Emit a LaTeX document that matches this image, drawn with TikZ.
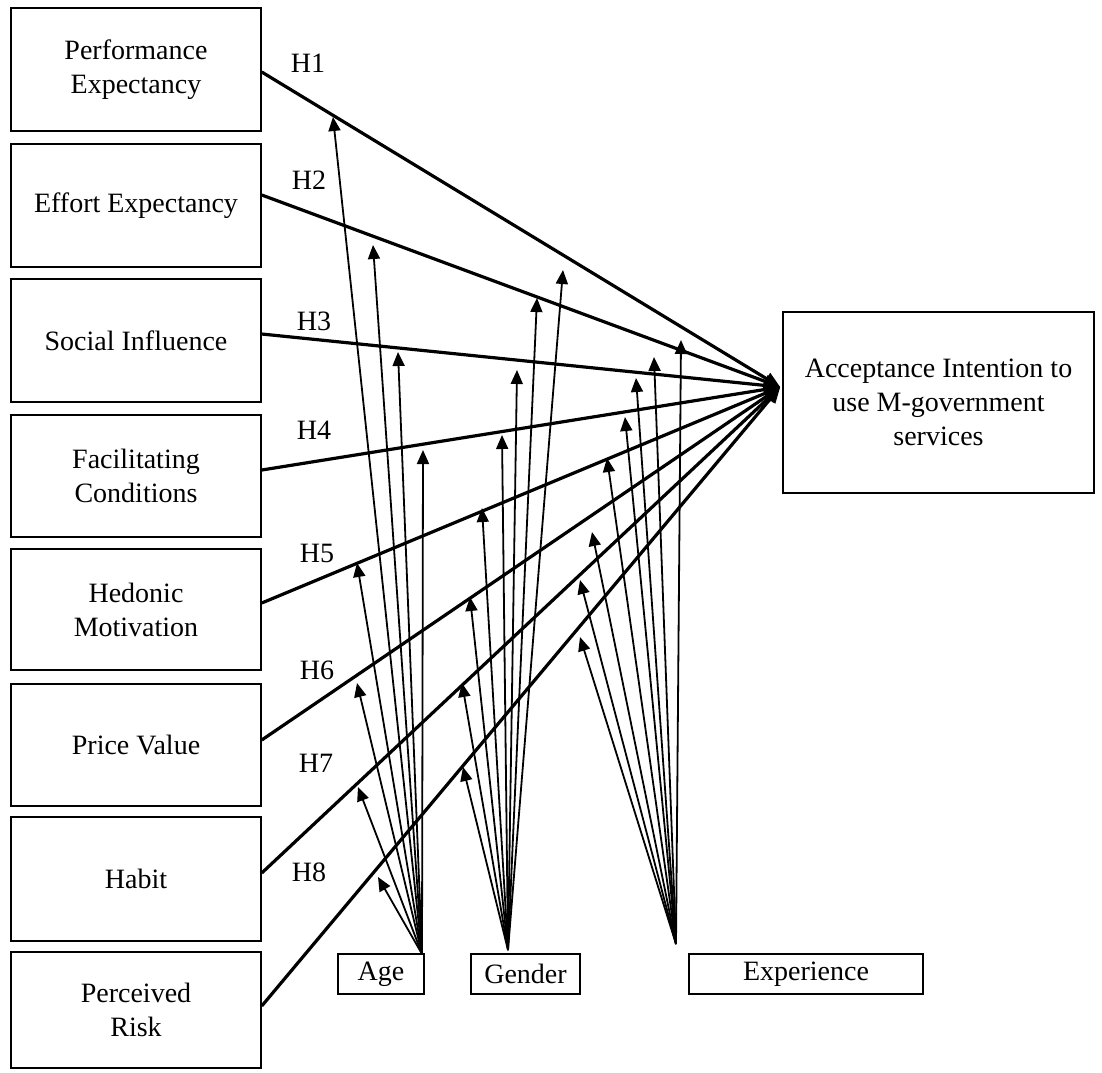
\documentclass[tikz,border=0pt]{standalone}
\usepackage{fontspec}
\setmainfont{Liberation Serif}
\usetikzlibrary{arrows.meta,calc}
\begin{document}
\begin{tikzpicture}[x=1pt,y=-1pt,
  box/.style={draw,line width=1.5pt,align=center,inner sep=0pt,
    font=\fontsize{28}{34}\selectfont},
  lbox/.style={box,minimum width=250pt},
  hpath/.style={line width=3.2pt,-{Triangle[length=16pt,width=13pt]}},
  modarrow/.style={line width=1.8pt,-{Triangle[length=14pt,width=12pt]}},
  hlab/.style={font=\fontsize{28}{34}\selectfont,inner sep=0pt}]
\useasboundingbox (0,0) rectangle (1102,1072);

% constructs
\node[lbox,minimum height=123pt] (pe) at (136,69.5)  {Performance\\Expectancy};
\node[lbox,minimum height=123pt] (ee) at (136,205.5) {Effort Expectancy};
\node[lbox,minimum height=123pt] (si) at (136,340.5) {Social Influence};
\node[lbox,minimum height=122pt] (fc) at (136,476)   {Facilitating\\Conditions};
\node[lbox,minimum height=121pt] (hm) at (136,609.5) {Hedonic\\Motivation};
\node[lbox,minimum height=122pt] (pv) at (136,745)   {Price Value};
\node[lbox,minimum height=124pt] (hb) at (136,879)   {Habit};
\node[lbox,minimum height=116pt] (pr) at (136,1010)  {Perceived\\Risk};

% dependent construct
\node[box,minimum width=311pt,minimum height=181pt] (ai) at (938.5,402.5)
  {Acceptance Intention to\\use M-government\\services};
\coordinate (conv) at ($(ai.west)+(-2,-15.5)$);

% moderators
\node[box,minimum width=86pt,minimum height=40pt]  (age) at (381,974)   {Age};
\node[box,minimum width=109pt,minimum height=40pt] (gen) at (525.5,974) {Gender};
\node[box,minimum width=234pt,minimum height=40pt] (exp) at (806,974)   {Experience};

% hypothesised paths
\draw[hpath] ($(pe.east)+(0,2.5)$)  -- (conv);
\draw[hpath] ($(ee.east)+(0,-10.5)$) -- (conv);
\draw[hpath] ($(si.east)+(0,-6.5)$) -- (conv);
\draw[hpath] ($(fc.east)+(0,-6)$)   -- (conv);
\draw[hpath] ($(hm.east)+(0,-6.5)$) -- (conv);
\draw[hpath] ($(pv.east)+(0,-5)$)   -- (conv);
\draw[hpath] ($(hb.east)+(0,-6)$)   -- (conv);
\draw[hpath] ($(pr.east)+(0,-4)$)   -- (conv);

\node[hlab] (h1) at (308,63)  {H1};
\node[hlab] (h2) at (309,180) {H2};
\node[hlab] (h3) at (314,321) {H3};
\node[hlab] (h4) at (314,430) {H4};
\node[hlab] (h5) at (317,553) {H5};
\node[hlab] (h6) at (317,670) {H6};
\node[hlab] (h7) at (316,763) {H7};
\node[hlab] (h8) at (309,872) {H8};

% moderating effects
\coordinate (oA) at (422,954);
\coordinate (oG) at (508,950);
\coordinate (oX) at (676,944);
\foreach \n/\x/\y in {1/333/117,2/373/245,3/398/352,4/423/450,
                      5/357/563,6/357/683,7/358/787,8/378/877}
  \coordinate (a\n) at (\x,\y);
\foreach \n/\x/\y in {1/563/270,2/537/298,3/517/370,4/502/435,
                      5/482/508,6/470/597,7/462/683,8/463/767}
  \coordinate (g\n) at (\x,\y);
\foreach \n/\x/\y in {1/681/340,2/654/357,3/636/378,4/625/417,
                      5/607/458,6/592/532,7/580/580,8/580/637}
  \coordinate (x\n) at (\x,\y);
\foreach \n in {1,...,8} {
  \draw[modarrow] (oA) -- (a\n);
  \draw[modarrow] (oG) -- (g\n);
  \draw[modarrow] (oX) -- (x\n);
}
\end{tikzpicture}
\end{document}
